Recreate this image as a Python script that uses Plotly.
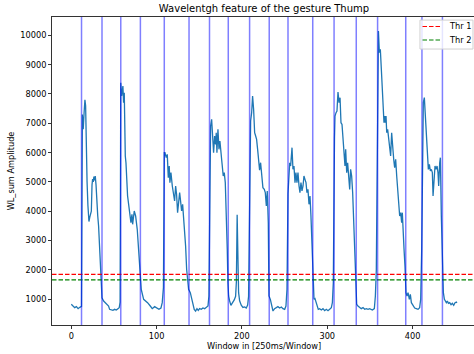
import plotly.graph_objects as go

# ---------------- data ----------------
WINDOW = [0, 2, 4, 6, 8, 10, 12, 13, 14, 15, 16, 16.8, 17.5, 18.5, 19.5, 20.7, 21.7, 22.7, 23.5, 24.3,
          25, 25.8, 26.5, 27.3, 28.1, 29, 30, 31, 32, 33.2, 34.2, 35.2, 36, 37.9, 39.8, 41.8, 43.7, 44.9,
          46.9, 48.8, 50.8, 52.7, 54.7, 56.2, 57.2,
          58, 59, 60.5, 61.3, 62.1, 63.3, 64.1, 66, 68.3, 69.9, 71.1, 71.9, 73.8, 75.4, 77.3, 78.9, 80.5,
          82, 84.8, 87.1, 89.4, 92.6, 94.9, 97.7, 100.4, 102.7, 105.1, 106.6, 108,
          109, 109.8, 111.3, 112.5, 113.7, 114.8, 115.6, 116.8, 118.4, 119.9, 121.1, 122.3, 123.4, 124.6,
          125.8, 127, 128.1, 129.3, 130.5, 131.6, 132.8, 134, 135.2, 136.3, 137.5, 139.5, 141, 142.6,
          144.1, 145.7, 147.3, 148.8, 150.4, 152.4, 154.3, 156.3, 158.2, 160.2, 161.3,
          162.5, 163.3, 164.5, 165.6, 166.8, 168, 169.2, 169.9, 170.7, 171.9, 173.1, 174.2, 175.4, 176.6,
          178.1, 179.3, 180.5, 181.7, 182.8, 183.6, 184.4, 185.6, 187.1, 188.3, 189.5, 191, 192.6, 193.5,
          194.4, 195.3, 196.1, 197.3, 199.2, 201.2, 203.2, 205.1, 206.7, 207.8,
          209.2, 210.2, 211.4, 212.5, 213.7, 214.9, 216.1, 217.2, 218.4, 219.6, 220.7, 221.9, 223.1,
          224.6, 226.2, 227.4, 228.6, 229.7, 230.9, 231.7, 233.3, 234.8, 236.4, 238.3, 240.3, 242.2,
          244.2, 246.2, 248.1, 250.1, 251.6, 252.8,
          254, 254.8, 256, 257.1, 258.7, 259.8, 261, 262.2, 263.3, 264.5, 265.7, 266.9, 268, 269.2, 270.4,
          271.6, 272.7, 273.9, 275.1, 276.2, 277.4, 278.6, 279.8, 280.9, 282.1, 283.3, 284.5, 285.6,
          286.8, 288, 289.5, 291.1, 293.1, 295, 297, 298.9, 300.9, 302.8, 304.8, 306, 307.1,
          308.5, 309.1, 310.3, 311.4, 312.6, 313.8, 315, 316.1, 317.3, 318.5, 319.6, 320.8, 321.6, 322.8,
          323.9, 325.1, 326.3, 327.4, 328.6, 329.8, 331, 332.1, 333.3, 334.5, 336, 338, 339.9, 341.9,
          343.9, 345.8, 347.8, 349.7, 352.9, 355.2, 356.4, 357.5,
          359.5, 360, 361.1, 362.2, 363.4, 364.6, 365.7, 366.5, 367.3, 368.1, 368.9, 369.7, 370.8, 372,
          373.2, 374.3, 375.5, 376.7, 377.9, 379, 380.2, 381.4, 382.6, 383.7, 384.9, 386.1, 387.2, 388,
          388.8, 390, 391.1, 392.3, 393.5, 394.7, 396.2, 397.4, 398.6, 400.5, 402.5, 404.4, 406.4, 408.3,
          409.5, 410.7,
          411.8, 412.6, 413.8, 415, 416.2, 417.3, 418.5, 419.7, 420.9, 422, 423.2, 424, 425.1, 426.3,
          427.5, 428.7, 429.8, 430.6, 431.8, 432.6, 433.7, 434.9, 436.1, 437.3, 438.4, 439.6, 440.8, 442,
          443.5, 445.1, 446.6, 448.2, 449.8, 451.3, 452]

WL_SUM = [830, 770, 714, 748, 680, 725, 760, 7300, 6800, 7350, 7800, 7600, 6200, 5000, 4200, 3650, 3800, 3950, 4000, 4900,
          5100, 5000, 5180, 5050, 5200, 4900, 4100, 3850, 3500, 2600, 1800, 1150, 1050, 941, 884, 827, 770, 657,
          634, 623, 657, 634, 680, 714, 900,
          8385, 7930, 8271, 7703, 8044, 5885, 5657, 4521, 3839, 3612, 3896, 3555, 4010, 3839, 3385, 2702, 1680,
          1339, 998, 941, 884, 770, 680, 748, 703, 657, 703, 884, 1400,
          6000, 5998, 5828, 5941, 5146, 5544, 4976, 5317, 4862, 4635, 4350, 4862, 4578, 3953,
          4294, 4635, 4350, 4010, 4237, 3839, 3385, 2816, 2021, 1566, 1339, 1225, 998, 884,
          657, 600, 680, 623, 680, 657, 703, 680, 725, 770, 1112,
          6600, 6907, 7135, 6567, 5998, 6567, 6283, 6680, 5998, 6794, 6112, 6396, 5885, 5657,
          5203, 5317, 4976, 4066, 2702, 1566, 1112, 941, 790, 850, 900, 980, 1100, 1600,
          3880, 2000, 1225, 950, 800, 720, 740, 700, 800, 1100,
          6500, 7078, 7362, 7930, 7476, 6680, 6567, 6453, 6112, 5657, 5400, 5657, 5203,
          4805, 4748, 4635, 4180, 4692, 3600, 1112, 998, 770, 600, 680, 714, 748,
          703, 737, 680, 657, 770, 1339,
          4600, 5317, 5657, 5544, 6169, 5430, 5544, 4976, 5317, 4976, 5317, 4862, 4635, 4976, 4692,
          4862, 5203, 5089, 4976, 4635, 4748, 4237, 4521, 3839, 2702, 1566, 998, 1021,
          884, 770, 657, 680, 634, 680, 612, 657, 612, 657, 714, 884, 1566,
          6500, 7248, 7362, 7419, 8067, 7703, 7874, 7021, 6964, 6567, 6112, 5544, 6112, 5317,
          5657, 5203, 4748, 5430, 5203, 4635, 3612, 2475, 1566, 827, 770, 737, 680, 714,
          657, 680, 657, 680, 634, 680, 1112, 2000,
          9000, 10147, 9408, 9522, 8840, 8158, 7590, 7021, 7248, 7021, 7248, 6680, 6794, 6453,
          6112, 5885, 6680, 6112, 5771, 5487, 5771, 5203, 4635, 4294, 3839, 3953, 3612, 3953,
          3157, 2702, 2134, 1225, 1112, 1225, 998, 1168, 884, 770, 703, 680, 657, 714,
          998, 2702,
          6800, 7703, 7874, 7248, 6339, 5771, 5430, 5601, 5373, 5430, 5317, 4521, 5089, 5544,
          5430, 5544, 5317, 4862, 5657, 5828, 3839, 2021, 1225, 998, 941, 884, 941, 862,
          884, 816, 862, 793, 884, 907, 880]

GESTURE_BOUNDS = [12, 36, 58, 81, 109, 138, 162, 184, 209, 232, 254, 283, 308, 334, 359, 392, 411, 435]
THRESHOLDS = [1852, 1658]
THRESHOLD_NAMES = ["Thr 1", "Thr 2"]
THRESHOLD_COLORS = ["#ff0000", "#008000"]

X_TICKS = [0, 100, 200, 300, 400]
Y_TICKS = [1000, 2000, 3000, 4000, 5000, 6000, 7000, 8000, 9000, 10000]

TITLE = "Wavelentgh feature of the gesture Thump"
X_LABEL = "Window in [250ms/Window]"
Y_LABEL = "WL_sum Amplitude"

# ---------------- figure ----------------
FONT = "DejaVu Sans"
FS = 8.2
DASH = "4.5px,2px"
fig = go.Figure()

fig.add_trace(go.Scatter(x=WINDOW, y=WL_SUM, mode="lines",
                         line=dict(color="#1f77b4", width=1.3),
                         showlegend=False, hoverinfo="skip"))

for thr, col in zip(THRESHOLDS, THRESHOLD_COLORS):
    fig.add_hline(y=thr, line=dict(color=col, width=1.2, dash=DASH), layer="above")

for b in GESTURE_BOUNDS:
    fig.add_vline(x=b, line=dict(color="rgba(0,0,255,0.5)", width=1.5), layer="above")

# legend box (matplotlib style, upper right)
fig.add_shape(type="rect", xref="paper", yref="paper", x0=0.872, x1=0.9976, y0=0.896, y1=0.990,
              line=dict(color="#d0d0d0", width=1), fillcolor="rgba(255,255,255,0.8)", layer="above")
for i, (name, col) in enumerate(zip(THRESHOLD_NAMES, THRESHOLD_COLORS)):
    yy = 0.9692 - i * 0.0439
    fig.add_shape(type="line", xref="paper", yref="paper", x0=0.878, x1=0.9206, y0=yy, y1=yy,
                  line=dict(color=col, width=1.2, dash=DASH), layer="above")
    fig.add_annotation(text=name, xref="paper", yref="paper", x=0.9367, y=yy, xanchor="left",
                       yanchor="middle", showarrow=False,
                       font=dict(family=FONT, size=FS, color="#000"))

# x-axis title (placed like matplotlib's xlabel)
fig.add_annotation(text=X_LABEL, xref="paper", yref="paper", x=(264 - 52) / 422, y=-21 / 308,
                   xanchor="center", yanchor="middle", showarrow=False,
                   font=dict(family=FONT, size=FS, color="#000"))

ymin, ymax = min(WL_SUM), max(WL_SUM)
ypad = 0.05 * (ymax - ymin)
xmin, xmax = min(WINDOW), max(WINDOW)
xpad = 0.05 * (xmax - xmin)

axis_common = dict(showline=True, linecolor="#333", linewidth=1, ticks="outside",
                   ticklen=3, tickwidth=1, tickcolor="#333", showgrid=False, zeroline=False,
                   automargin=False,
                   tickfont=dict(family=FONT, size=FS, color="#000"))

fig.update_layout(
    template="none",
    width=474, height=354,
    margin=dict(l=52, r=0, t=17, b=29, autoexpand=False),
    paper_bgcolor="white", plot_bgcolor="white",
    font=dict(family=FONT, size=FS, color="#000"),
    showlegend=False,
    title=dict(text=TITLE, x=264 / 474, xref="container", xanchor="center",
               y=1 - 8.5 / 354, yref="container", yanchor="middle",
               font=dict(family=FONT, size=10, color="#000")),
    xaxis=dict(range=[xmin - xpad, 472], tickvals=X_TICKS, ticktext=[str(t) for t in X_TICKS],
               mirror=True, **axis_common),
    yaxis=dict(range=[ymin - ypad, ymax + ypad], tickvals=Y_TICKS, ticktext=[str(t) for t in Y_TICKS],
               title=dict(text=Y_LABEL, standoff=4, font=dict(family=FONT, size=FS, color="#000")),
               **axis_common),
)

fig.write_html("out.html", config={"displayModeBar": False},
               post_script="document.body.style.margin='0';document.body.style.overflow='hidden';")
